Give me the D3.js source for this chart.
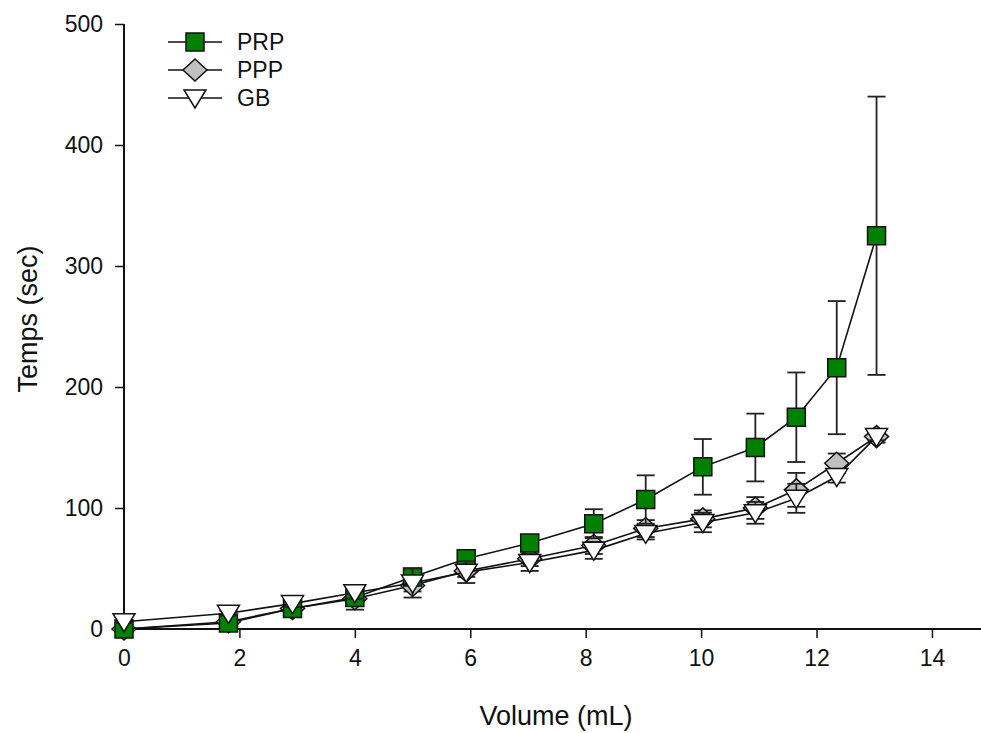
<!DOCTYPE html>
<html>
<head>
<meta charset="utf-8">
<script src="https://cdn.jsdelivr.net/npm/d3@7"></script>
<style>
html,body{margin:0;padding:0;background:#fff;}
text{font-family:Arial,"Liberation Sans",sans-serif;fill:#111;}
</style>
</head>
<body>
<svg id="chart" width="981" height="733"></svg>
<script>
const volumes = [0, 1.81, 2.92, 4.0, 5.0, 5.93, 7.03, 8.14, 9.04, 10.03, 10.94, 11.65, 12.35, 13.04];
const prpMean = [0, 5, 17, 26, 43, 58, 71, 87, 107, 134, 150, 175, 216, 325];
const prpErr  = [1, 2, 3, 4, 4, 4, 5, 12, 20, 23, 28, 37, 55, 115];
const pppMean = [0, 6, 17, 25, 36, 48, 58, 69, 83, 91, 100, 115, 137, 159];
const pppErr  = [1, 2, 3, 9, 5, 5, 6, 7, 7, 7, 9, 14, 8, 5];
const gbMean  = [6, 13, 21, 30, 38, 47, 55, 65, 79, 88, 96, 108, 126, 159];
const gbErr   = [1, 2, 3, 5, 12, 9, 7, 7, 5, 8, 9, 12, 5, 3];
const seriesNames = ["PRP", "PPP", "GB"];
const xTicks = [0, 2, 4, 6, 8, 10, 12, 14];
const yTicks = [0, 100, 200, 300, 400, 500];

const svg = d3.select("#chart");
const x = d3.scaleLinear().domain([0, 14.85]).range([124, 981]);
const y = d3.scaleLinear().domain([0, 500]).range([629, 24]);

const series = [
  {name: seriesNames[0], mean: prpMean, err: prpErr, shape: "square", fill: "#008000"},
  {name: seriesNames[1], mean: pppMean, err: pppErr, shape: "diamond", fill: "#c0c0c0"},
  {name: seriesNames[2], mean: gbMean, err: gbErr, shape: "tri", fill: "#ffffff"}
];
const drawOrder = [1, 0, 2];

function markerPath(shape) {
  if (shape === "square") return "M-9,-9H9V9H-9Z";
  if (shape === "diamond") return "M0,-11L12,0L0,11L-12,0Z";
  return "M-11,-8H11L0,10Z";
}

// axes
const xAxis = d3.axisBottom(x).tickValues(xTicks).tickSize(9).tickPadding(12).tickFormat(d3.format("d"));
const yAxis = d3.axisLeft(y).tickValues(yTicks).tickSize(9).tickPadding(12).tickFormat(d3.format("d"));
const gx = svg.append("g").attr("transform", "translate(0,629)").call(xAxis);
const gy = svg.append("g").attr("transform", "translate(124,0)").call(yAxis);
[gx, gy].forEach(g => {
  g.select(".domain").attr("stroke", "#111").attr("stroke-width", 2);
  g.selectAll(".tick line").attr("stroke", "#111").attr("stroke-width", 1.5);
  g.selectAll(".tick text").style("font-size", "23px").attr("fill", "#111");
});
gx.select(".domain").attr("d", "M124,0H981");
gy.select(".domain").attr("d", "M0,24V629");

svg.append("text").attr("x", 556).attr("y", 725).attr("text-anchor", "middle")
  .style("font-size", "27px").text("Volume (mL)");
svg.append("text").attr("transform", "translate(37,319) rotate(-90)").attr("text-anchor", "middle")
  .style("font-size", "27px").text("Temps (sec)");

const line = d3.line().x(d => x(d.v)).y(d => y(d.m));

drawOrder.forEach(k => {
  const s = series[k];
  const pts = volumes.map((v, i) => ({v, m: s.mean[i], e: s.err[i]}));
  const g = svg.append("g");
  const eb = g.append("g");
  pts.forEach(p => {
    const cx = x(p.v), y1 = y(p.m + p.e), y2 = y(p.m - p.e);
    eb.append("line").attr("x1", cx).attr("x2", cx).attr("y1", y1).attr("y2", y2).attr("stroke", "#222").attr("stroke-width", 1.8);
    eb.append("line").attr("x1", cx - 9).attr("x2", cx + 9).attr("y1", y1).attr("y2", y1).attr("stroke", "#222").attr("stroke-width", 1.8);
    eb.append("line").attr("x1", cx - 9).attr("x2", cx + 9).attr("y1", y2).attr("y2", y2).attr("stroke", "#222").attr("stroke-width", 1.8);
  });
  g.append("path").datum(pts).attr("d", line).attr("fill", "none").attr("stroke", "#111").attr("stroke-width", 1.6);
  g.selectAll("path.m").data(pts).enter().append("path").attr("class", "m")
    .attr("d", markerPath(s.shape))
    .attr("transform", d => `translate(${x(d.v)},${y(d.m)})`)
    .attr("fill", s.fill).attr("stroke", "#111").attr("stroke-width", 1.5);
});

// legend
const leg = svg.append("g");
series.forEach((s, i) => {
  const ly = 42 + i * 28;
  leg.append("line").attr("x1", 168).attr("x2", 222).attr("y1", ly).attr("y2", ly).attr("stroke", "#111").attr("stroke-width", 1.6);
  leg.append("path").attr("d", markerPath(s.shape)).attr("transform", `translate(195,${ly})`)
    .attr("fill", s.fill).attr("stroke", "#111").attr("stroke-width", 1.5);
  leg.append("text").attr("x", 237).attr("y", ly + 8).style("font-size", "23px").text(s.name);
});
</script>
</body>
</html>
